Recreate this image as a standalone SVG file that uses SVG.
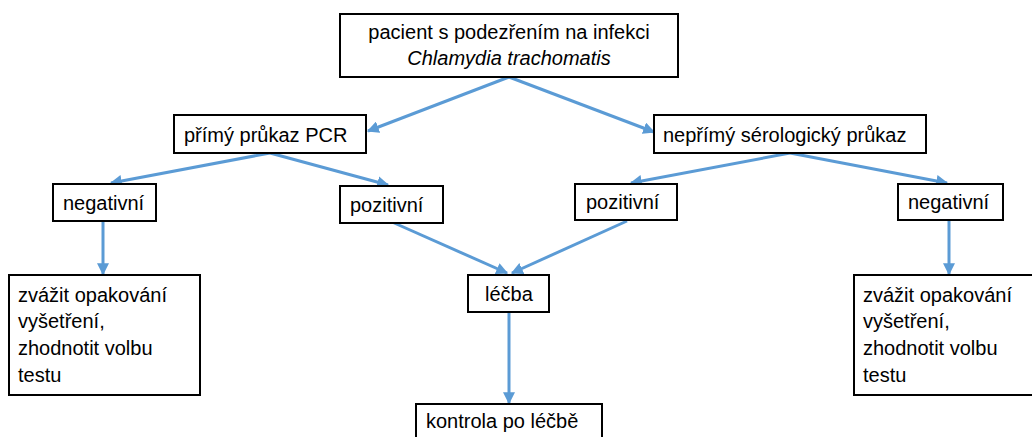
<svg xmlns="http://www.w3.org/2000/svg" width="1032" height="437" viewBox="0 0 1032 437">
<style>
.box{fill:#fff;stroke:#000;stroke-width:2}
.t{font-family:"Liberation Sans",Arial,sans-serif;font-size:20px;fill:#000}
.c{stroke:#5B9BD5;stroke-width:3;fill:none;marker-end:url(#ah)}
</style>
<defs>
<marker id="ah" viewBox="0 0 10 10" refX="9" refY="5" markerWidth="4" markerHeight="4" orient="auto" markerUnits="strokeWidth">
<path d="M0,0 L10,5 L0,10 Z" fill="#5B9BD5"/>
</marker>
</defs>
<rect width="1032" height="437" fill="#fff"/>
<g id="connectors">
<line class="c" x1="509" y1="77" x2="368" y2="131"/>
<line class="c" x1="509" y1="77" x2="654" y2="132"/>
<line class="c" x1="270" y1="153" x2="111" y2="183"/>
<line class="c" x1="270" y1="153" x2="388" y2="185"/>
<line class="c" x1="790" y1="153" x2="631" y2="183"/>
<line class="c" x1="790" y1="153" x2="947" y2="183"/>
<line class="c" x1="103" y1="221" x2="103" y2="274"/>
<line class="c" x1="949" y1="220" x2="949" y2="274"/>
<line class="c" x1="392" y1="222" x2="507" y2="273"/>
<line class="c" x1="627" y1="221" x2="512" y2="273"/>
<line class="c" x1="509" y1="312" x2="509" y2="403"/>
</g>
<g id="n-pacient">
<rect class="box" x="340" y="14" width="338" height="63"/>
<text class="t" x="509" y="39" text-anchor="middle">pacient s podezřením na infekci</text>
<text class="t" x="509" y="65" text-anchor="middle" font-style="italic">Chlamydia trachomatis</text>
</g>
<g id="n-pcr">
<rect class="box" x="174" y="115" width="192" height="38"/>
<text class="t" x="184" y="142">přímý průkaz PCR</text>
</g>
<g id="n-sero">
<rect class="box" x="654" y="115" width="272" height="38"/>
<text class="t" x="663" y="142">nepřímý sérologický průkaz</text>
</g>
<g id="n-neg1">
<rect class="box" x="53" y="184" width="103" height="37"/>
<text class="t" x="63" y="210">negativní</text>
</g>
<g id="n-poz1">
<rect class="box" x="340" y="186" width="103" height="37"/>
<text class="t" x="350" y="212">pozitivní</text>
</g>
<g id="n-poz2">
<rect class="box" x="575" y="184" width="102" height="36"/>
<text class="t" x="586" y="209">pozitivní</text>
</g>
<g id="n-neg2">
<rect class="box" x="898" y="184" width="105" height="36"/>
<text class="t" x="908" y="209">negativní</text>
</g>
<g id="n-zvazit1">
<rect class="box" x="9" y="275" width="191" height="120"/>
<text class="t" x="18" y="302">zvážit opakování</text>
<text class="t" x="18" y="328">vyšetření,</text>
<text class="t" x="18" y="355">zhodnotit volbu</text>
<text class="t" x="18" y="382">testu</text>
</g>
<g id="n-zvazit2">
<rect class="box" x="854" y="275" width="190" height="120"/>
<text class="t" x="863" y="302">zvážit opakování</text>
<text class="t" x="863" y="328">vyšetření,</text>
<text class="t" x="863" y="355">zhodnotit volbu</text>
<text class="t" x="863" y="382">testu</text>
</g>
<g id="n-lecba">
<rect class="box" x="468" y="275" width="81" height="37"/>
<text class="t" x="485" y="301">léčba</text>
</g>
<g id="n-kontrola">
<rect class="box" x="416" y="404" width="186" height="45"/>
<text class="t" x="426" y="428">kontrola po léčbě</text>
</g>
</svg>
